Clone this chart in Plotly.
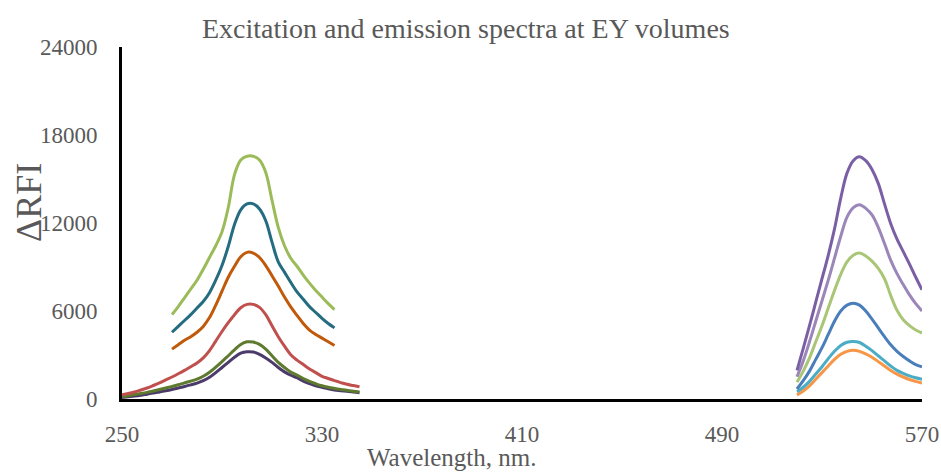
import plotly.graph_objects as go

# Excitation spectra (left group) - wavelengths in nm
wl_ex_short = [270, 272.5, 275, 277.5, 280, 282.5, 285, 287.5, 290, 292.5, 295, 297.5, 300,
               302.5, 305, 307.5, 310, 312.5, 315, 317.5, 320, 322.5, 325, 327.5, 330, 332.5, 335]
wl_ex_long = [250, 252.5, 255, 257.5, 260, 262.5, 265, 267.5, 270, 272.5, 275, 277.5, 280,
              282.5, 285, 287.5, 290, 292.5, 295, 297.5, 300, 302.5, 305, 307.5, 310, 312.5,
              315, 317.5, 320, 322.5, 325, 327.5, 330, 332.5, 335, 337.5, 340, 342.5, 345]

ex_green = [5750, 6300, 6900, 7500, 8100, 8850, 9650, 10450, 11400, 13050, 15300, 16300, 16550,
            16550, 16300, 15450, 13550, 11700, 10450, 9600, 9050, 8450, 7900, 7400, 6950, 6500, 6100]
ex_teal = [4550, 4950, 5350, 5750, 6200, 6650, 7250, 8100, 9100, 10400, 11900, 12900, 13300,
           13300, 12950, 12150, 10700, 9350, 8650, 7950, 7300, 6800, 6300, 5900, 5500, 5150, 4850]
ex_orange = [3400, 3700, 4000, 4250, 4550, 4950, 5550, 6400, 7350, 8300, 9050, 9700, 10000,
             9950, 9650, 9100, 8400, 7700, 6950, 6280, 5700, 5150, 4700, 4400, 4150, 3900, 3650]
ex_red = [280, 380, 480, 610, 750, 920, 1100, 1300, 1500, 1720, 1950, 2200, 2450,
          2800, 3300, 3950, 4600, 5200, 5750, 6220, 6450, 6450, 6250, 5750, 5000, 4250,
          3600, 3020, 2650, 2350, 2050, 1800, 1550, 1400, 1250, 1120, 1000, 920, 840]
ex_olive = [150, 220, 300, 370, 450, 550, 650, 750, 850, 970, 1100, 1220, 1350,
            1550, 1820, 2170, 2550, 2950, 3350, 3720, 3900, 3880, 3720, 3400, 2950, 2500,
            2150, 1830, 1630, 1400, 1200, 1040, 900, 800, 720, 650, 590, 530, 480]
ex_purple = [100, 150, 200, 260, 330, 400, 480, 560, 650, 750, 850, 960, 1080,
             1250, 1480, 1800, 2150, 2500, 2850, 3120, 3220, 3200, 3050, 2800, 2500, 2150,
             1850, 1620, 1450, 1220, 1050, 900, 800, 700, 620, 570, 520, 470, 430]

# Emission spectra (right group)
wl_em = [520, 522.5, 525, 527.5, 530, 532.5, 535, 537.5, 540, 542.5, 545,
         547.5, 550, 552.5, 555, 557.5, 560, 562.5, 565, 567.5, 570]
em_purple = [1950, 3450, 5000, 6600, 8200, 9800, 11600, 13700, 15400, 16250, 16520,
             16250, 15650, 14700, 13300, 11950, 10900, 10050, 9200, 8300, 7450]
em_lavender = [1520, 2600, 3900, 5300, 6700, 8100, 9600, 11100, 12400, 13050, 13250,
               13000, 12550, 11700, 10600, 9450, 8550, 7800, 7100, 6500, 6000]
em_green = [1150, 1900, 2800, 3900, 5000, 6200, 7400, 8500, 9350, 9800, 9950,
            9750, 9400, 8900, 8200, 7050, 6050, 5400, 5000, 4700, 4500]
em_blue = [680, 1250, 1900, 2700, 3500, 4400, 5300, 6000, 6400, 6530, 6400,
           6000, 5450, 4850, 4250, 3700, 3250, 2900, 2600, 2350, 2200]
em_cyan = [500, 800, 1200, 1700, 2200, 2750, 3250, 3650, 3870, 3920, 3850,
           3600, 3300, 2950, 2600, 2250, 1950, 1750, 1580, 1450, 1350]
em_orange = [280, 550, 900, 1350, 1800, 2250, 2700, 3050, 3250, 3320, 3250,
             3080, 2850, 2550, 2250, 1950, 1700, 1500, 1330, 1200, 1080]

x_ticks = [250, 330, 410, 490, 570]
y_ticks = [0, 6000, 12000, 18000, 24000]

series = [
    (wl_ex_long, ex_purple, "#4B3B6A"),
    (wl_ex_long, ex_olive, "#5E7A2E"),
    (wl_ex_long, ex_red, "#C0504D"),
    (wl_ex_short, ex_orange, "#C05A0A"),
    (wl_ex_short, ex_teal, "#256C80"),
    (wl_ex_short, ex_green, "#9BBB59"),
    (wl_em, em_orange, "#F79646"),
    (wl_em, em_cyan, "#4BACC6"),
    (wl_em, em_blue, "#4A7EBB"),
    (wl_em, em_green, "#A9C576"),
    (wl_em, em_lavender, "#9B86B9"),
    (wl_em, em_purple, "#7B5FA5"),
]

fig = go.Figure()
for xs, ys, c in series:
    fig.add_trace(go.Scatter(x=xs, y=ys, mode="lines",
                             line=dict(color=c, width=3, shape="spline", smoothing=1.0),
                             showlegend=False, hoverinfo="skip"))

font_family = "Liberation Serif"
gray = "#595959"
L, R, T, B = 122, 19, 47, 74
W, H = 941, 473

fig.update_layout(
    width=W, height=H,
    margin=dict(l=L, r=R, t=T, b=B, autoexpand=False),
    paper_bgcolor="white", plot_bgcolor="white",
    font=dict(family=font_family, color=gray, size=23),
    showlegend=False,
    xaxis=dict(range=[250, 570], tickvals=x_ticks, ticktext=[str(v) for v in x_ticks],
               showgrid=False, zeroline=False, showline=True, linecolor="black", linewidth=3,
               ticks="", automargin=False, ticklabelstandoff=12,
               tickfont=dict(size=23, color=gray, family=font_family)),
    yaxis=dict(range=[0, 24000], tickvals=y_ticks, ticktext=[str(v) for v in y_ticks],
               showgrid=False, zeroline=False, showline=True, linecolor="black", linewidth=3,
               ticks="", automargin=False, ticklabelstandoff=17,
               tickfont=dict(size=23, color=gray, family=font_family)),
)

pw = W - L - R
ph = H - T - B
def ann(text, px, py, size, angle=0):
    return dict(text=text, xref="paper", yref="paper",
                x=(px - L) / pw, y=(H - B - py) / ph,
                xanchor="center", yanchor="middle", showarrow=False, textangle=angle,
                font=dict(size=size, color=gray, family=font_family))

fig.update_layout(annotations=[
    ann("Excitation and emission spectra at EY volumes", 466, 28, 28),
    ann("Wavelength, nm.", 451, 458, 25),
    ann("ΔRFI", 29, 203, 36, -90),
])
fig.write_html("out.html")
